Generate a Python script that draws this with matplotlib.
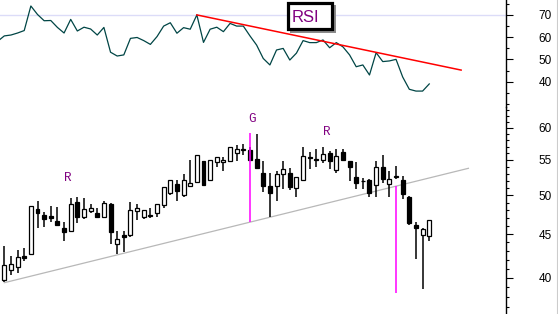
import matplotlib
matplotlib.use('Agg')
import matplotlib.pyplot as plt
from matplotlib.patches import Rectangle
from matplotlib.lines import Line2D
from matplotlib.ticker import FixedLocator, FuncFormatter, NullFormatter

# daily candles (oldest first)
opens = [39.76, 40.85, 41.14, 42.40, 42.61, 48.12, 47.35, 47.22, 46.66, 45.75,
         45.35, 49.04, 47.09, 47.94, 47.61, 47.09, 48.78, 43.85, 44.90, 44.93,
         47.86, 47.09, 47.30, 47.61, 48.64, 50.28, 51.49, 50.01, 51.29, 51.85,
         54.83, 52.05, 54.69, 54.69, 54.83, 55.99, 56.50, 56.50, 55.14, 53.09,
         51.21, 51.21, 52.91, 53.05, 50.94, 52.05, 55.40, 55.14, 55.00, 55.99,
         53.47, 56.14, 54.77, 52.48, 51.90, 52.09, 51.35, 53.91, 51.53, 52.50,
         52.09, 49.75, 46.12, 44.86, 44.81]
highs = [43.58, 42.41, 43.11, 43.38, 48.60, 49.22, 47.77, 48.55, 48.38, 46.54,
         49.58, 49.71, 49.58, 48.78, 48.33, 49.22, 48.99, 45.35, 45.42, 49.08,
         48.78, 48.05, 48.29, 48.85, 51.15, 52.10, 52.09, 52.95, 55.00, 55.75,
         54.90, 55.05, 55.45, 55.49, 56.95, 57.25, 57.36, 57.00, 58.98, 54.90,
         53.09, 53.35, 54.77, 53.76, 52.55, 56.95, 56.14, 56.64, 56.95, 56.29,
         56.60, 56.60, 54.85, 54.69, 52.42, 52.18, 54.83, 55.74, 53.35, 54.11,
         52.66, 49.88, 46.47, 45.79, 46.80]
lows = [39.58, 40.32, 40.48, 41.88, 42.50, 45.79, 45.91, 46.54, 46.10, 44.21,
        45.25, 46.41, 46.87, 47.61, 47.09, 47.00, 43.78, 42.61, 42.91, 44.69,
        46.71, 46.84, 47.04, 47.17, 48.25, 50.05, 49.22, 49.71, 51.08, 51.63,
        51.35, 51.95, 53.91, 53.41, 54.69, 54.77, 55.74, 54.80, 53.80, 50.49,
        47.13, 49.26, 50.84, 50.71, 49.79, 52.00, 53.62, 53.99, 54.55, 53.71,
        53.13, 54.90, 51.91, 50.88, 50.88, 49.79, 49.79, 51.71, 49.71, 52.19,
        49.44, 46.16, 42.05, 38.83, 44.21]
closes = [41.40, 41.48, 42.27, 42.20, 48.51, 47.68, 46.84, 47.00, 46.16, 45.30,
          48.78, 47.17, 48.12, 48.25, 47.17, 48.91, 45.30, 44.38, 44.69, 47.99,
          48.25, 47.99, 47.40, 48.78, 51.08, 52.05, 50.62, 52.05, 51.63, 55.69,
          51.43, 55.00, 55.39, 54.98, 56.90, 56.60, 56.60, 55.00, 53.85, 51.29,
          50.35, 52.91, 53.62, 51.16, 52.48, 55.52, 55.30, 54.96, 55.84, 54.83,
          55.58, 54.96, 53.99, 51.63, 52.00, 50.31, 53.91, 52.19, 52.19, 52.60,
          50.14, 46.34, 45.71, 45.67, 46.75]

# RSI, first value belongs to the bar just left of the chart
rsi = [58.1, 60.5, 60.9, 61.8, 62.9, 73.9, 70.1, 67.3, 67.4, 64.3, 61.8,
       67.9, 62.7, 64.4, 63.6, 60.9, 64.3, 53.2, 51.5, 52.0, 59.4,
       59.8, 58.4, 56.7, 60.2, 64.9, 66.4, 61.7, 64.2, 63.5, 69.9,
       57.6, 63.5, 64.4, 62.4, 66.1, 64.9, 64.9, 60.5, 56.4, 50.4,
       47.5, 54.2, 54.9, 49.7, 52.8, 58.4, 57.5, 57.5, 58.7, 55.2,
       57.5, 55.6, 52.0, 46.7, 47.5, 43.0, 53.0, 49.0, 49.3, 50.0,
       42.1, 36.6, 35.8, 35.8, 39.0]

# drawn lines (bar index, value)
rsi_trend_x = [29, 68.8]
rsi_trend_y = [69.9, 45.2]
price_trend_x = [0, 69.9]
price_trend_y = [39.46, 53.76]
spikes_x = [37, 59]
spikes_top = [59.09, 51.23]
spikes_bot = [46.45, 38.37]

price_major = [40, 45, 50, 55, 60]
price_minor = [v for v in range(37, 64) if v not in price_major]
rsi_major = [40, 50, 60, 70]
rsi_minor = [30, 35, 45, 55, 65, 75]

W, H = 558, 314
PURPLE = '#800080'


def box(x0, y0, x1, y1):
    return [x0 / W, 1 - y1 / H, (x1 - x0) / W, (y1 - y0) / H]


def style(ax):
    for s in ['left', 'top', 'bottom']:
        ax.spines[s].set_visible(False)
    ax.spines['right'].set_linewidth(1.0)
    ax.yaxis.tick_right()
    ax.set_xticks([])
    ax.tick_params(axis='y', which='major', length=5, width=0.8, pad=18.5,
                   labelsize=8.5, direction='out')
    ax.tick_params(axis='y', which='minor', length=2.5, width=0.8, direction='out')
    for lab in ax.get_yticklabels():
        lab.set_family('Liberation Sans')
    ax.set_xlim(-0.648, 75.56)
    ax.patch.set_alpha(0)


fig = plt.figure(figsize=(W / 100, H / 100), dpi=100)
ax_rsi = fig.add_axes(box(0, 0, 506, 107))
ax_px = fig.add_axes(box(0, 107, 506, 314))

# --- RSI panel
ax_rsi.axhline(70, color='#dcdcf8', lw=1)
ax_rsi.plot(range(-1, len(rsi) - 1), rsi, color='#004545', lw=0.9)
ax_rsi.plot(rsi_trend_x, rsi_trend_y, color='#ff0000', lw=1.1)
ax_rsi.set_ylim(28.67, 76.58)
ax_rsi.yaxis.set_major_locator(FixedLocator(rsi_major))
ax_rsi.yaxis.set_minor_locator(FixedLocator(rsi_minor))
style(ax_rsi)

# --- price panel
ax_px.set_yscale('log')
x = list(range(len(opens)))
ax_px.vlines(x, lows, highs, colors='black', lw=1.1, zorder=2)
bottoms = [min(o, c) for o, c in zip(opens, closes)]
heights = [abs(c - o) for o, c in zip(opens, closes)]
fills = ['white' if c >= o else 'black' for o, c in zip(opens, closes)]
ax_px.bar(x, heights, bottom=bottoms, width=0.6, color=fills,
          edgecolor='black', linewidth=0.9, zorder=3)
ax_px.plot(price_trend_x, price_trend_y, color='#b8b8b8', lw=0.9, zorder=1)
ax_px.vlines(spikes_x, spikes_bot, spikes_top, colors='#ff00ff', lw=1.1, zorder=4)

for tx, ty, t in [(9.49, 52.34, 'R'), (37.35, 61.5, 'G'), (48.55, 59.26, 'R')]:
    ax_px.text(tx, ty, t, color=PURPLE, fontsize=9, family='Liberation Mono',
               ha='center', va='center')

ax_px.set_ylim(36.26, 63.45)
ax_px.yaxis.set_major_locator(FixedLocator(price_major))
ax_px.yaxis.set_minor_locator(FixedLocator(price_minor))
ax_px.yaxis.set_major_formatter(FuncFormatter(lambda v, p: '%d' % round(v)))
ax_px.yaxis.set_minor_formatter(NullFormatter())
style(ax_px)

# "RSI" caption box with shadow
fig.patches.append(Rectangle((289.5 / W, 1 - 32.5 / H), 46.5 / W, 28 / H,
                             transform=fig.transFigure, fc='#8c8c8c', ec='none'))
fig.patches.append(Rectangle((287.7 / W, 1 - 28.6 / H), 44 / W, 25.6 / H,
                             transform=fig.transFigure, fc='white', ec='black', lw=2.3))
fig.text(305.5 / W, 1 - 17.5 / H, 'RSI', color=PURPLE, fontsize=12,
         family='Liberation Sans', ha='center', va='center')

fig.add_artist(Line2D([556.5 / W] * 2, [0, 1], color='#cccccc', lw=0.8,
                      transform=fig.transFigure))

fig.savefig('out.png', dpi=100)
